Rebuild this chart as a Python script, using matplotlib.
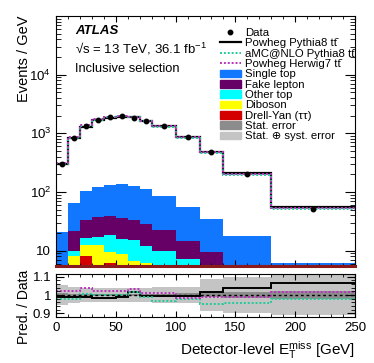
import numpy as np
import matplotlib.pyplot as plt
from matplotlib.ticker import FixedLocator, LogLocator, MultipleLocator, NullFormatter, FuncFormatter
from matplotlib.lines import Line2D
from matplotlib.patches import Patch

plt.rcParams['font.family'] = ['Liberation Sans', 'DejaVu Sans']
plt.rcParams['mathtext.fontset'] = 'custom'
plt.rcParams['mathtext.rm'] = 'Liberation Sans'
plt.rcParams['mathtext.it'] = 'Liberation Sans:italic'
plt.rcParams['mathtext.bf'] = 'Liberation Sans:bold'

# ── data (events / GeV) ──
bins = np.array([0, 10, 20, 30, 40, 50, 60, 70, 80, 100, 120, 140, 180, 250])
data = np.array([305, 845, 1316, 1690, 1870, 1948, 1852, 1620, 1332, 865, 480, 206, 52])

# backgrounds, stacked bottom -> top
drell_yan  = np.array([3.0, 4.5, 8.0, 5.0, 6.3, 5.0, 4.0, 3.5, 3.0, 2.5, 2.0, 1.5, 1.0])
diboson    = np.array([1.0, 3.5, 4.5, 7.6, 3.4, 3.9, 2.7, 2.7, 2.0, 1.5, 1.0, 0.5, 0.2])
other_top  = np.array([1.0, 2.0, 4.0, 4.5, 8.8, 6.9, 8.3, 6.0, 5.1, 3.3, 1.5, 1.0, 0.6])
fake_lep   = np.array([0.2, 11.3, 16.3, 20.4, 21.0, 20.2, 18.7, 16.6, 12.7, 7.5, 4.9, 2.0, 0.7])
single_top = np.array([15.3, 43.7, 70.2, 84.5, 92.5, 102, 95.3, 84.2, 64.2, 40.2, 25.6, 12.5, 3.8])

# prediction / data
r_pow_py8 = np.array([0.99, 0.99, 0.99, 0.985, 0.985, 0.99, 1.015, 0.996, 0.996, 0.996, 1.014, 1.036, 1.066])
r_amc     = np.array([0.978, 0.978, 1.005, 1.002, 1.002, 1.002, 1.015, 0.99, 0.968, 0.978, 0.951, 0.958, 0.98])
r_pow_h7  = np.array([1.02, 1.02, 1.038, 1.024, 1.024, 1.024, 1.033, 1.013, 1.01, 0.984, 0.987, 0.987, 1.016])
err_stat  = np.array([0.012, 0.008, 0.007, 0.006, 0.006, 0.006, 0.006, 0.007, 0.007, 0.009, 0.012, 0.015, 0.02])
err_syst  = np.array([0.055, 0.045, 0.04, 0.04, 0.04, 0.04, 0.04, 0.04, 0.045, 0.045, 0.085, 0.1, 0.11])

centers = 0.5 * (bins[1:] + bins[:-1])

c_single = '#1177ff'
c_fake = '#660066'
c_other = '#00ffff'
c_dib = '#ffff00'
c_dy = '#d40000'
c_green = '#22cc99'
c_mag = '#bb33bb'
c_stat = '#8c8c8c'
c_syst = '#c4c4c4'

fig = plt.figure(figsize=(3.74, 3.63), dpi=100)
W, H = 374, 363
ax = fig.add_axes([56 / W, 1 - 266 / H, 299 / W, 250 / H])
axr = fig.add_axes([56 / W, 1 - 317 / H, 299 / W, 43 / H])

# ── main panel ──
base = np.full(len(data), 1e-3)
for vals, col in [(drell_yan, c_dy), (diboson, c_dib), (other_top, c_other),
                  (fake_lep, c_fake), (single_top, c_single)]:
    ax.stairs(base + vals, bins, baseline=base, fill=True, color=col, lw=0)
    base = base + vals

ax.stairs(data * r_pow_py8, bins, baseline=None, color='black', lw=1.6)
ax.stairs(data * r_amc, bins, baseline=None, color=c_green, lw=1.4, ls=(0, (1, 1)))
ax.stairs(data * r_pow_h7, bins, baseline=None, color=c_mag, lw=1.4, ls=(0, (1, 1)))
ax.plot(centers, data, 'o', color='black', ms=3.2)

ax.set_yscale('log')
ax.set_xlim(0, 250)
ax.set_ylim(5.5, 1e5)
ax.yaxis.set_major_locator(FixedLocator([10, 100, 1000, 10000]))
ax.yaxis.set_major_formatter(FuncFormatter(lambda v, p: '10' if v == 10 else r'$10^{%d}$' % round(np.log10(v))))
ax.yaxis.set_minor_locator(LogLocator(base=10, subs=np.arange(2, 10)))
ax.yaxis.set_minor_formatter(NullFormatter())
ax.xaxis.set_major_locator(MultipleLocator(50))
ax.xaxis.set_minor_locator(MultipleLocator(10))
ax.set_xticklabels([])
ax.tick_params(which='both', direction='in', top=True, right=True, labelsize=9.5)
ax.tick_params(axis='y', which='major', length=7)
ax.tick_params(axis='y', which='minor', length=3.5)
ax.tick_params(axis='x', which='major', length=4.5)
ax.tick_params(axis='x', which='minor', length=2.3)
ax.spines['bottom'].set_color('#8b1a1a')
ax.spines['bottom'].set_linewidth(2.2)
ax.set_ylabel('Events / GeV', fontsize=10.5, loc='top')
ax.yaxis.set_label_coords(-0.085, 1.0)

ax.text(0.064, 0.94, 'ATLAS', transform=ax.transAxes, fontsize=9.5,
        fontweight='bold', fontstyle='italic', va='center')
ax.text(0.064, 0.868, '√s = 13 TeV, 36.1 fb$^{-1}$', transform=ax.transAxes,
        fontsize=9.5, va='center')
ax.text(0.064, 0.788, 'Inclusive selection', transform=ax.transAxes, fontsize=9.3, va='center')

handles = [
    Line2D([], [], marker='o', color='black', ls='none', ms=3.2),
    Line2D([], [], color='black', lw=1.6),
    Line2D([], [], color=c_green, lw=1.4, ls=(0, (1, 1))),
    Line2D([], [], color=c_mag, lw=1.4, ls=(0, (1, 1))),
    Patch(color=c_single), Patch(color=c_fake), Patch(color=c_other),
    Patch(color=c_dib), Patch(color=c_dy), Patch(color=c_stat), Patch(color=c_syst),
]
tt = 'tt\u0304'
labels = ['Data', 'Powheg Pythia8 ' + tt, 'aMC@NLO Pythia8 ' + tt,
          'Powheg Herwig7 ' + tt, 'Single top', 'Fake lepton', 'Other top',
          'Diboson', 'Drell-Yan (ττ)', 'Stat. error', 'Stat. ⊕ syst. error']
ax.legend(handles, labels, loc='upper left', bbox_to_anchor=(0.548, 0.952), frameon=False,
          fontsize=8.2, labelspacing=0.03, handlelength=1.85, handleheight=0.65,
          handletextpad=0.35, borderpad=0, borderaxespad=0)

# ── ratio panel ──
one = np.ones(len(data))
axr.stairs(one + err_syst, bins, baseline=one - err_syst, fill=True, color=c_syst, lw=0)
axr.stairs(one + err_stat, bins, baseline=one - err_stat, fill=True, color=c_stat, lw=0)
axr.axhline(1.0, color='black', lw=1.0, ls=(0, (2, 2)))
axr.stairs(r_pow_py8, bins, baseline=None, color='black', lw=1.4)
axr.stairs(r_amc, bins, baseline=None, color=c_green, lw=1.4, ls=(0, (1, 1)))
axr.stairs(r_pow_h7, bins, baseline=None, color=c_mag, lw=1.4, ls=(0, (1, 1)))

axr.set_xlim(0, 250)
axr.set_ylim(0.88, 1.115)
axr.yaxis.set_major_locator(FixedLocator([0.9, 1.0, 1.1]))
axr.yaxis.set_major_formatter(FuncFormatter(lambda v, p: '%g' % round(v, 2)))
axr.yaxis.set_minor_locator(MultipleLocator(0.02))
axr.xaxis.set_major_locator(MultipleLocator(50))
axr.xaxis.set_minor_locator(MultipleLocator(10))
axr.tick_params(which='both', direction='in', top=True, right=True, labelsize=9.5)
axr.tick_params(axis='y', which='major', length=6)
axr.tick_params(axis='y', which='minor', length=3)
axr.tick_params(axis='x', which='major', length=4.5)
axr.tick_params(axis='x', which='minor', length=2.3)
axr.set_ylabel('Pred. / Data', fontsize=10)
axr.yaxis.set_label_coords(-0.085, 0.23)
axr.set_xlabel(r'Detector-level E$_{\mathrm{T}}^{\mathrm{miss}}$ [GeV]', fontsize=11, loc='right')

fig.savefig('out.png', dpi=100)
